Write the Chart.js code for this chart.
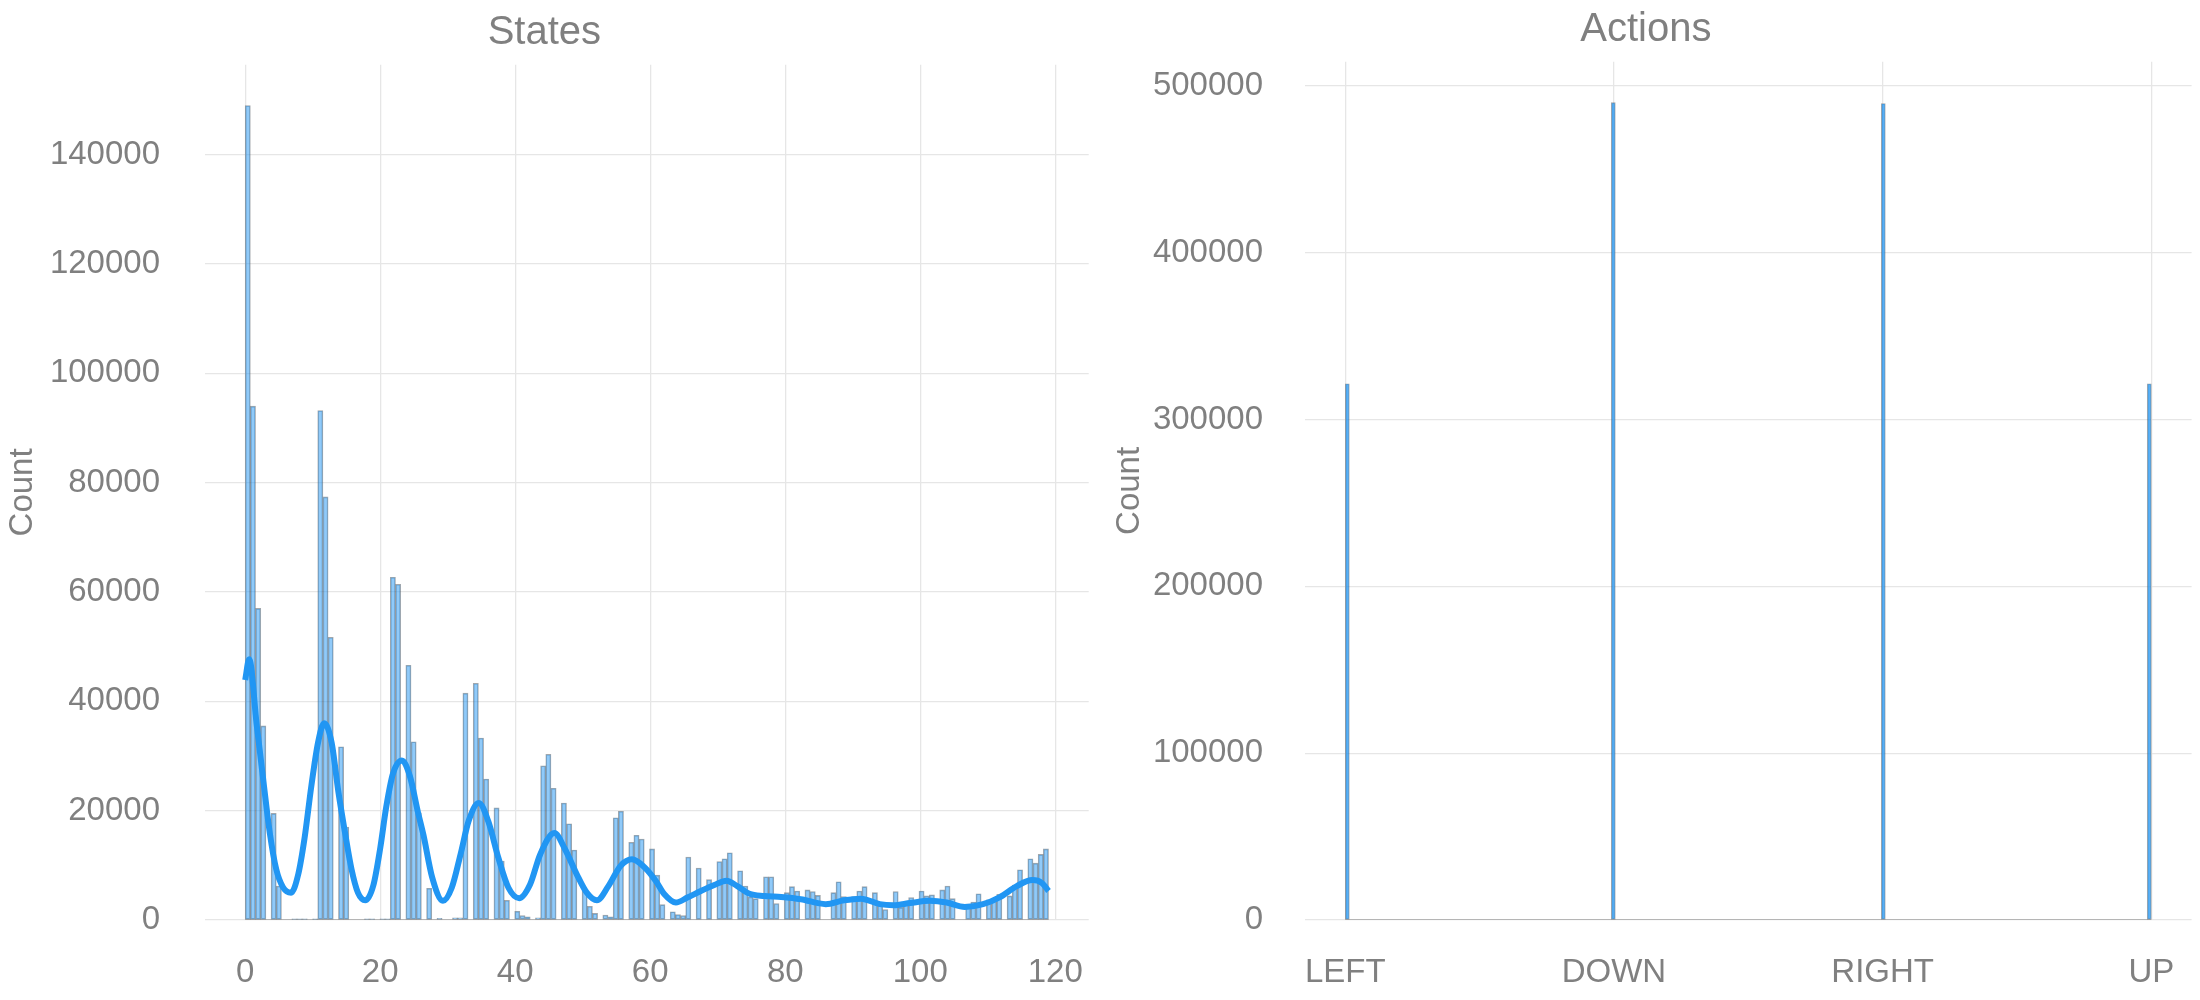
<!DOCTYPE html>
<html>
<head>
<meta charset="utf-8">
<title>States / Actions</title>
<script src="https://cdn.jsdelivr.net/npm/chart.js@4.4.1/dist/chart.umd.min.js"></script>
<style>
  html, body { margin: 0; padding: 0; background: #fff; }
  #wrap { position: relative; width: 2200px; height: 1000px; }
  .panel { position: absolute; top: 0; width: 1100px; height: 1000px; }
</style>
</head>
<body>
<div id="wrap">
  <div class="panel" style="left:0"><canvas id="states" width="1100" height="1000"></canvas></div>
  <div class="panel" style="left:1100px"><canvas id="actions" width="1100" height="1000"></canvas></div>
</div>
<script>
// visit counts per state 0..119
const stateCounts = [
  149000, 94000, 57000, 35500, 19500, 6200, 0, 200, 200, 200,      // 0-9
  200, 93200, 77400, 51700, 31700, 17000, 0, 0, 200, 200,          // 10-19
  200, 200, 62700, 61400, 46600, 32600, 19600, 5800, 0, 300,       // 20-29
  0, 400, 400, 41500, 43300, 33300, 25800, 20500, 10800, 3600,     // 30-39
  1600, 800, 600, 400, 28200, 30300, 24100, 21400, 17600, 12800,   // 40-49
  5500, 2500, 1200, 900, 600, 18700, 19900, 14200, 15500, 14800,   // 50-59
  13000, 8200, 2800, 1500, 1000, 800, 11500, 9500, 0, 7400,        // 60-69
  10700, 11200, 12300, 9000, 6200, 4200, 3900, 7900, 7900, 3000,   // 70-79
  5000, 6100, 5300, 5500, 5200, 4500, 0, 5000, 7000, 4300,         // 80-89
  4300, 5300, 6100, 5000, 2700, 1900, 5200, 2300, 3300, 4100,      // 90-99
  5300, 4400, 4600, 5500, 6200, 3900, 0, 2900, 3300, 4800,         // 100-109
  3700, 3900, 4700, 4400, 6400, 9200, 11200, 10400, 12000, 13000   // 110-119
];

// density curve (scaled to counts), read at these states
const kdeX = [0, 0.6, 1.7, 2.7, 3.65, 4.6, 5.6, 6.8, 7.85, 8.8, 9.8, 10.8, 11.7, 12.8, 13.8,
  14.8, 15.75, 16.7, 17.8, 19.0, 20.0, 20.9, 21.9, 23.2, 24.4, 25.6, 26.4, 27.7, 29.3,
  30.6, 31.9, 33.1, 34.6, 36.0, 37.5, 39.0, 40.6, 42.2, 43.7, 45.8, 47.4, 49.1, 50.6,
  52.1, 53.8, 55.6, 57.3, 59.1, 60.8, 62.1, 63.8, 65.5, 67.5, 69.5, 71.3, 72.9, 74.7,
  76.9, 79.4, 82.3, 86.0, 88.7, 91.2, 94.0, 96.0, 98.5, 101.4, 103.9, 106.6, 109.3,
  111.8, 114.3, 116.6, 118.0, 119.0];
const kdeY = [43900, 47700, 35800, 25400, 15900, 9300, 6000, 5000, 8300, 15000, 24500, 32500, 36000, 32500, 23500,
  15900, 9300, 5000, 3600, 6400, 13100, 20700, 26800, 29200, 26300, 19700, 15600, 7800, 3500,
  5900, 12000, 18100, 21400, 18100, 11400, 5900, 4000, 6500, 12000, 15900, 12900, 8400, 5000,
  3600, 6200, 9900, 11100, 9700, 7200, 4700, 3200, 4100, 5300, 6400, 7200, 6200, 4800,
  4400, 4200, 3800, 2900, 3600, 3900, 2900, 2700, 3100, 3500, 3200, 2400, 2900,
  4200, 6200, 7300, 6800, 5300];

const stateTicks = [0, 20, 40, 60, 80, 100, 120];
const stateCountTicks = [0, 20000, 40000, 60000, 80000, 100000, 120000, 140000];

const actionNames = ['LEFT', 'DOWN', 'RIGHT', 'UP'];
const actionCounts = [321500, 490000, 489500, 321500];
const actionCountTicks = [0, 100000, 200000, 300000, 400000, 500000];

// histogram bin settings
const STATE_BINS = 155;
const ACTION_BINS = 200;

Chart.defaults.font.family = "'Liberation Sans', Arial, sans-serif";
Chart.defaults.color = '#808080';

const GRID = '#e6e6e6';
const TEXT = '#808080';

function binCenter(v, lo, hi, n) {
  const i = Math.min(Math.floor((v - lo) * n / (hi - lo)), n - 1);
  return lo + (i + 0.5) * (hi - lo) / n;
}

function fixedTicks(list) {
  return (scale) => { scale.ticks = list.map(v => ({ value: v })); };
}

function baseOptions(o) {
  return {
    responsive: false,
    animation: false,
    devicePixelRatio: 1,
    layout: { padding: { left: 0, right: o.padRight, top: 0, bottom: 0 } },
    plugins: {
      legend: { display: false },
      tooltip: { enabled: false },
      title: {
        display: true,
        text: o.title,
        color: TEXT,
        font: { size: 40, weight: 'normal', lineHeight: 1.1 },
        padding: { top: 0, bottom: 10 }
      }
    },
    scales: {
      x: {
        type: 'linear',
        offset: false,
        min: o.xMin,
        max: o.xMax,
        afterBuildTicks: fixedTicks(o.xTicks),
        afterFit: (s) => { s.height = 80; s.paddingLeft = 0; s.paddingRight = 0; },
        grid: { color: GRID, lineWidth: 1.3, drawTicks: false, offset: false },
        border: { display: false },
        ticks: { padding: 33, color: TEXT, font: { size: 33 }, maxRotation: 0, callback: o.xLabel }
      },
      y: {
        min: 0,
        max: o.yMax,
        afterBuildTicks: fixedTicks(o.yTicks),
        afterFit: (s) => { s.width = 205; },
        grid: { color: GRID, lineWidth: 1.3, drawTicks: false },
        border: { display: false },
        ticks: { padding: o.yPad, color: TEXT, font: { size: 33 }, callback: (v) => String(v) },
        title: {
          display: true, text: 'Count', color: TEXT,
          font: { size: 33, lineHeight: 1.2 },
          padding: { top: o.titlePad, bottom: 0 }
        }
      }
    }
  };
}

// ---- States ----
const sLo = 0, sHi = stateCounts.length - 1;
const sSpan = sHi - sLo;

new Chart(document.getElementById('states'), {
  data: {
    datasets: [
      {
        type: 'line',
        data: kdeX.map((x, i) => ({ x: x, y: kdeY[i] })),
        borderColor: '#2196f3',
        borderWidth: 6,
        pointRadius: 0,
        cubicInterpolationMode: 'monotone',
        fill: false,
        order: 0
      },
      {
        type: 'line',
        data: [{ x: sLo, y: 0 }, { x: sHi, y: 0 }],
        borderColor: 'rgba(120,120,120,0.6)',
        borderWidth: 1.5,
        pointRadius: 0,
        order: 1
      },
      {
        type: 'bar',
        data: stateCounts.map((c, k) => ({ x: binCenter(k, sLo, sHi, STATE_BINS), y: c })),
        backgroundColor: 'rgba(33,150,243,0.5)',
        borderColor: 'rgba(70,80,90,0.5)',
        borderWidth: 0.9,
        borderSkipped: false,
        barPercentage: 1,
        categoryPercentage: 1,
        order: 2
      }
    ]
  },
  options: baseOptions({
    title: 'States',
    padRight: 11.3,
    xMin: sLo - 0.05 * sSpan,
    xMax: sHi + 0.05 * sSpan,
    xTicks: stateTicks,
    xLabel: (v) => String(v),
    yMax: Math.max(...stateCounts) * 1.05,
    yTicks: stateCountTicks,
    yPad: 45,
    titlePad: 3
  })
});

// ---- Actions ----
const aLo = 0, aHi = actionNames.length - 1;
const aSpan = aHi - aLo;

new Chart(document.getElementById('actions'), {
  data: {
    datasets: [
      {
        type: 'line',
        data: [{ x: aLo, y: 0 }, { x: aHi, y: 0 }],
        borderColor: 'rgba(120,120,120,0.6)',
        borderWidth: 1.5,
        pointRadius: 0,
        order: 0
      },
      {
        type: 'bar',
        data: actionCounts.map((c, i) => ({ x: binCenter(i, aLo, aHi, ACTION_BINS), y: c })),
        backgroundColor: 'rgba(33,150,243,0.75)',
        borderColor: 'rgba(70,80,90,0.5)',
        borderWidth: 0.9,
        borderSkipped: false,
        barThickness: 4,
        order: 1
      }
    ]
  },
  options: baseOptions({
    title: 'Actions',
    padRight: 8.4,
    xMin: aLo - 0.05 * aSpan,
    xMax: aHi + 0.05 * aSpan,
    xTicks: actionNames.map((_, i) => i),
    xLabel: (v) => actionNames[v],
    yMax: Math.max(...actionCounts) * 1.05,
    yTicks: actionCountTicks,
    yPad: 42,
    titlePad: 10
  })
});
</script>
</body>
</html>
